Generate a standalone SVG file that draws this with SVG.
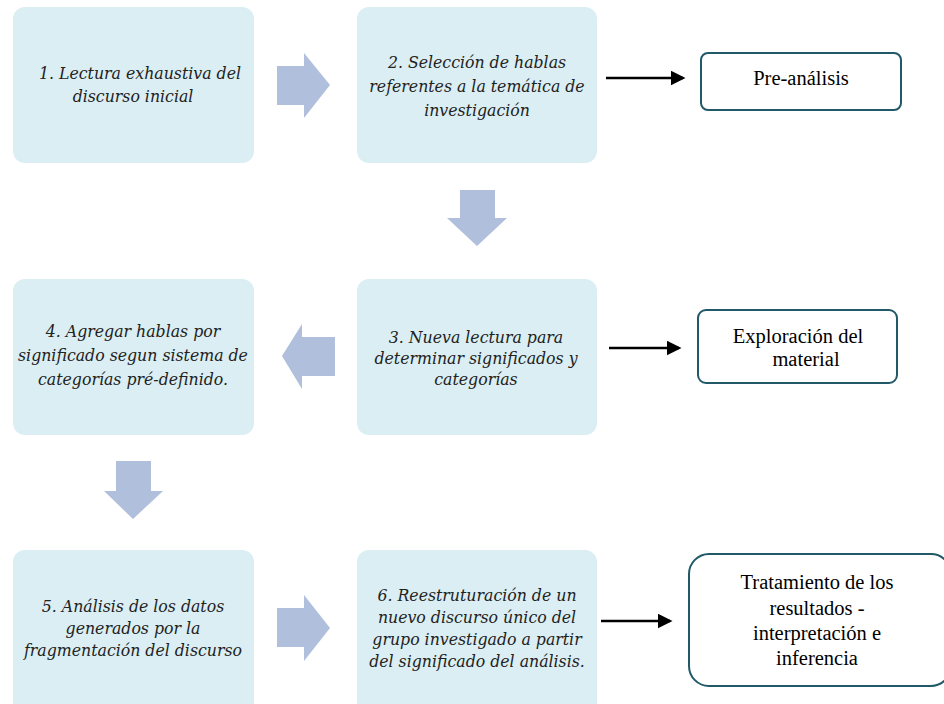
<svg xmlns="http://www.w3.org/2000/svg" width="944" height="704" viewBox="0 0 944 704">
<defs>
<style>
.step{fill:#DAEEF3;}
.big{fill:#B0BFDB;}
.out{fill:#fff;stroke:#215968;stroke-width:2;}
.ln{stroke:#000;stroke-width:2.5;fill:none;}
</style>
<marker id="ah" markerWidth="6" markerHeight="6" refX="5" refY="3" orient="auto" markerUnits="strokeWidth">
<path d="M0,0 L6,3 L0,6 z" fill="#000"/>
</marker>
</defs>
<rect width="944" height="704" fill="#fff"/>

<g id="step1"><rect class="step" x="13" y="7" width="241" height="156" rx="12"/>
<text font-family="DejaVu Serif Condensed" font-style="italic" font-size="17.5" fill="#222" text-anchor="middle" x="140" y="79">1. Lectura exhaustiva del</text>
<text font-family="DejaVu Serif Condensed" font-style="italic" font-size="17.5" fill="#222" text-anchor="middle" x="133" y="102">discurso inicial</text></g>

<g id="step2"><rect class="step" x="357" y="7" width="240" height="156" rx="12"/>
<text font-family="DejaVu Serif Condensed" font-style="italic" font-size="17.5" fill="#222" text-anchor="middle" x="477" y="68">2. Selección de hablas</text>
<text font-family="DejaVu Serif Condensed" font-style="italic" font-size="17.5" fill="#222" text-anchor="middle" x="477" y="92">referentes a la temática de</text>
<text font-family="DejaVu Serif Condensed" font-style="italic" font-size="17.5" fill="#222" text-anchor="middle" x="477" y="116">investigación</text></g>

<g id="step3"><rect class="step" x="357" y="279" width="240" height="156" rx="12"/>
<text font-family="DejaVu Serif Condensed" font-style="italic" font-size="17.5" fill="#222" text-anchor="middle" x="476" y="343">3. Nueva lectura para</text>
<text font-family="DejaVu Serif Condensed" font-style="italic" font-size="17.5" fill="#222" text-anchor="middle" x="476" y="364">determinar significados y</text>
<text font-family="DejaVu Serif Condensed" font-style="italic" font-size="17.5" fill="#222" text-anchor="middle" x="476" y="385">categorías</text></g>

<g id="step4"><rect class="step" x="13" y="279" width="241" height="156" rx="12"/>
<text font-family="DejaVu Serif Condensed" font-style="italic" font-size="17.5" fill="#222" text-anchor="middle" x="133" y="337">4. Agregar hablas por</text>
<text font-family="DejaVu Serif Condensed" font-style="italic" font-size="17.5" fill="#222" text-anchor="middle" x="133" y="361">significado segun sistema de</text>
<text font-family="DejaVu Serif Condensed" font-style="italic" font-size="17.5" fill="#222" text-anchor="middle" x="133" y="385">categorías pré-definido.</text></g>

<g id="step5"><rect class="step" x="13" y="550" width="241" height="166" rx="12"/>
<text font-family="DejaVu Serif Condensed" font-style="italic" font-size="17.5" fill="#222" text-anchor="middle" x="133" y="612">5. Análisis de los datos</text>
<text font-family="DejaVu Serif Condensed" font-style="italic" font-size="17.5" fill="#222" text-anchor="middle" x="133" y="634">generados por la</text>
<text font-family="DejaVu Serif Condensed" font-style="italic" font-size="17.5" fill="#222" text-anchor="middle" x="133" y="656">fragmentación del discurso</text></g>

<g id="step6"><rect class="step" x="357" y="550" width="240" height="166" rx="12"/>
<text font-family="DejaVu Serif Condensed" font-style="italic" font-size="17.5" fill="#222" text-anchor="middle" x="477" y="601">6. Reestruturación de un</text>
<text font-family="DejaVu Serif Condensed" font-style="italic" font-size="17.5" fill="#222" text-anchor="middle" x="477" y="623">nuevo discurso único del</text>
<text font-family="DejaVu Serif Condensed" font-style="italic" font-size="17.5" fill="#222" text-anchor="middle" x="477" y="645">grupo investigado a partir</text>
<text font-family="DejaVu Serif Condensed" font-style="italic" font-size="17.5" fill="#222" text-anchor="middle" x="477" y="667">del significado del análisis.</text></g>

<g id="out1"><rect class="out" x="701" y="53" width="200" height="57" rx="7"/>
<text font-family="Liberation Serif" font-size="20.5" fill="#000" text-anchor="middle" x="801" y="85">Pre-análisis</text></g>

<g id="out2"><rect class="out" x="698" y="310" width="199" height="73" rx="8"/>
<text font-family="Liberation Serif" font-size="20.5" fill="#000" text-anchor="middle" x="798" y="343">Exploración del</text>
<text font-family="Liberation Serif" font-size="20.5" fill="#000" text-anchor="middle" x="806" y="366">material</text></g>

<g id="out3"><rect class="out" x="689" y="554" width="262" height="132" rx="20"/>
<text font-family="Liberation Serif" font-size="20.5" fill="#000" text-anchor="middle" x="817" y="589">Tratamiento de los</text>
<text font-family="Liberation Serif" font-size="20.5" fill="#000" text-anchor="middle" x="817" y="615">resultados -</text>
<text font-family="Liberation Serif" font-size="20.5" fill="#000" text-anchor="middle" x="817" y="640">interpretación e</text>
<text font-family="Liberation Serif" font-size="20.5" fill="#000" text-anchor="middle" x="817" y="665">inferencia</text></g>

<g id="connectors">
<path class="big" d="M277,66 L304,66 L304,53 L330,85 L304,118 L304,105 L277,105 z"/>
<path class="big" d="M460,190 L495,190 L495,218 L507,218 L477,246 L447,218 L460,218 z"/>
<path class="big" d="M335,337 L302,337 L302,324 L282,356 L302,389 L302,376 L335,376 z"/>
<path class="big" d="M116,461 L151,461 L151,491 L163,491 L133,519 L104,491 L116,491 z"/>
<path class="big" d="M277,608 L304,608 L304,595 L330,628 L304,661 L304,647 L277,647 z"/>
<line class="ln" x1="606" y1="78" x2="683" y2="78" marker-end="url(#ah)"/>
<line class="ln" x1="609" y1="348" x2="679" y2="348" marker-end="url(#ah)"/>
<line class="ln" x1="601" y1="621" x2="670" y2="621" marker-end="url(#ah)"/>
</g>
</svg>
